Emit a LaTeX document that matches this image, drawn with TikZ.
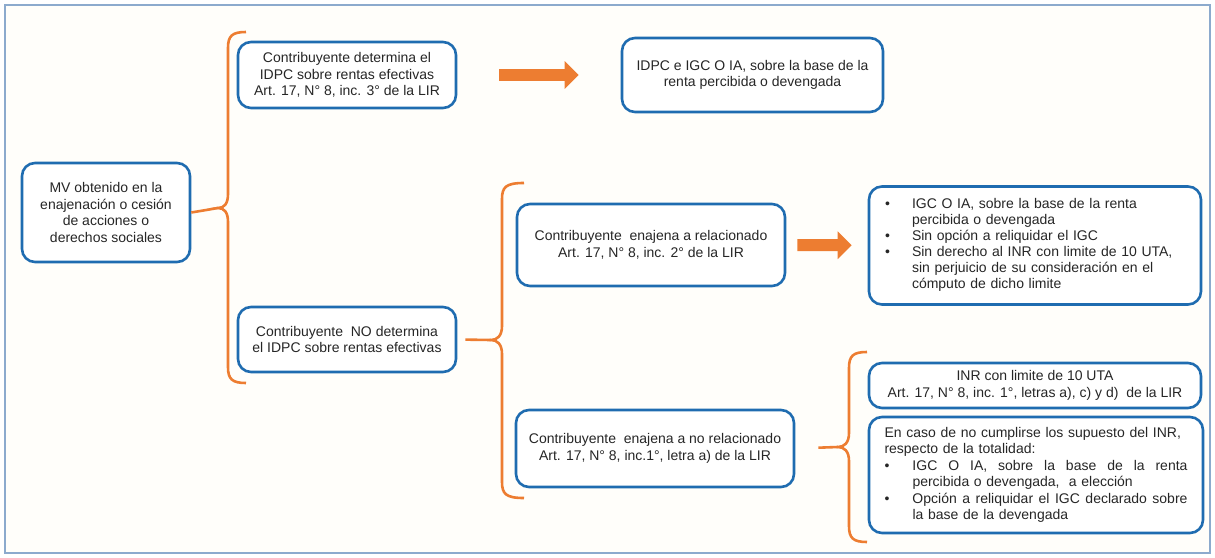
\documentclass[tikz,border=0pt]{standalone}
\usepackage{fontspec}
\setmainfont{Liberation Sans}
\usetikzlibrary{arrows.meta}

\definecolor{azulcaja}{RGB}{31,108,176}
\definecolor{naranja}{RGB}{237,125,49}
\definecolor{azulmarco}{RGB}{140,170,205}
\definecolor{gristexto}{RGB}{38,38,38}
\definecolor{fondo}{RGB}{255,254,250}

\begin{document}
\begin{tikzpicture}[x=1pt,y=-1pt,
  caja/.style={draw=azulcaja, line width=2.6pt, rounded corners=13pt, fill=white,
    align=center, inner sep=0pt, text=gristexto, font=\fontsize{14}{16.5}\selectfont},
  llave/.style={draw=naranja, line width=2.6pt},
  flecha/.style={draw=naranja, line width=12pt, -{Triangle[length=14pt,width=27pt]}}]

% Marco y fondo
\useasboundingbox (0,0) rectangle (1215,557);
\draw[azulmarco, line width=1.2pt, fill=fondo] (5,5) rectangle (1210,553);

% Cajas
\node[caja, minimum width=168, minimum height=99] (mv) at (106,212.5)
  {MV obtenido en la\\enajenación o cesión\\de acciones o\\derechos sociales};
\node[caja, minimum width=218, minimum height=66] (det) at (347,75)
  {Contribuyente determina el\\IDPC sobre rentas efectivas\\Art. 17, N° 8, inc. 3° de la LIR};
\node[caja, minimum width=261, minimum height=74] (idpc) at (752.5,75)
  {IDPC e IGC O IA, sobre la base de la\\renta percibida o devengada};
\node[caja, minimum width=218, minimum height=65] (nodet) at (347,339.5)
  {Contribuyente \ NO determina\\el IDPC sobre rentas efectivas};
\node[caja, minimum width=268, minimum height=82] (rel) at (651,245)
  {Contribuyente \ enajena a relacionado\\Art. 17, N° 8, inc. 2° de la LIR};
\node[caja, minimum width=278, minimum height=77] (norel) at (655,448.5)
  {Contribuyente \ enajena a no relacionado\\Art. 17, N° 8, inc.1°, letra a) de la LIR};
\node[caja, minimum width=332, minimum height=118, text width=300, inner xsep=16, align=left] (lista) at (1035,245.5)
  {\renewcommand{\arraystretch}{0.97}%
  \begin{tabular}{@{}p{27pt}@{}l@{}}
    \textbullet & IGC O IA, sobre la base de la renta\\
     & percibida o devengada\\
    \textbullet & Sin opción a reliquidar el IGC\\
    \textbullet & Sin derecho al INR con limite de 10 UTA,\\
     & sin perjuicio de su consideración en el\\
     & cómputo de dicho limite
  \end{tabular}};
\node[caja, minimum width=332, minimum height=45] (inr) at (1035,385.5)
  {INR con limite de 10 UTA\\Art. 17, N° 8, inc. 1°, letras a), c) y d) \ de la LIR};
\node[caja, minimum width=334, minimum height=116, text width=303, inner xsep=15.5, align=left] (caso) at (1036,475)
  {\begin{tabular}{@{}p{28pt}@{}l@{}}
    \multicolumn{2}{@{}l@{}}{En caso de no cumplirse los supuesto del INR,}\\
    \multicolumn{2}{@{}l@{}}{respecto de la totalidad:}\\
    \textbullet & \hbox to 275pt{IGC\hfill O\hfill IA,\hfill sobre\hfill la\hfill base\hfill de\hfill la\hfill renta}\\
     & percibida o devengada, \ a elección\\
    \textbullet & \hbox to 275pt{Opción\hfill a\hfill reliquidar\hfill el\hfill IGC\hfill declarado\hfill sobre}\\
     & la base de la devengada
  \end{tabular}};

% Puntas de las llaves
\coordinate (t1) at (218,208);
\coordinate (t2) at (491,340);
\coordinate (t3) at (838,447);

% Llaves
\draw[llave] (246,32) .. controls (232,32) and (228,36) .. (228,48) -- (228,194)
  .. controls (228,204) and (224,208) .. (t1) .. controls (224,208) and (228,212) .. (228,222)
  -- (228,367) .. controls (228,379) and (232,383) .. (246,383);
\draw[llave] (524,183) .. controls (506,183) and (502,187) .. (502,199) -- (502,326)
  .. controls (502,336) and (497,340) .. (t2) .. controls (497,340) and (502,344) .. (502,354)
  -- (502,482) .. controls (502,494) and (506,498) .. (524,498);
\draw[llave] (867,352) .. controls (853,352) and (849,356) .. (849,368) -- (849,433)
  .. controls (849,443) and (844,447) .. (t3) .. controls (844,447) and (849,451) .. (849,461)
  -- (849,526) .. controls (849,538) and (853,542) .. (867,542);

% Conectores
\draw[llave] (mv.east) -- (t1);
\draw[llave, shorten <=8pt] (nodet.east) -- (t2);
\draw[llave, shorten <=23pt] (norel.east) -- (t3);

% Flechas
\draw[flecha, shorten <=42pt, shorten >=42pt] (det) -- (idpc);
\draw[flecha, shorten <=11pt, shorten >=16pt] (rel) -- (lista);

\end{tikzpicture}
\end{document}
